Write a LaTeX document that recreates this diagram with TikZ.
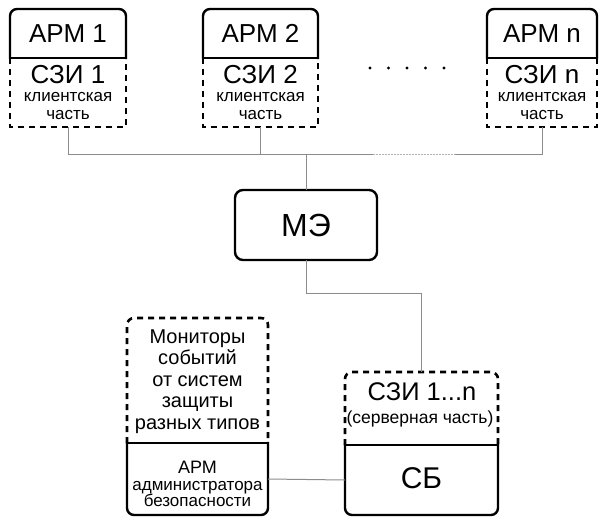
\documentclass[tikz,border=0pt]{standalone}
\usepackage{fontspec}
\setmainfont{Liberation Sans}
\begin{document}
\begin{tikzpicture}[x=1pt,y=-1pt,
  area/.style={draw=none, inner sep=0pt, outer sep=0pt},
  txt/.style={inner sep=0pt, anchor=base},
  big/.style={font=\fontsize{26}{28}\selectfont},
  small/.style={font=\fontsize{17}{18}\selectfont},
  mid/.style={font=\fontsize{20}{22}\selectfont},
  solidline/.style={line width=2.4pt, line cap=rect, draw=black},
  dashline/.style={line width=2.6pt, dash pattern=on 6pt off 5pt, draw=black},
  conn/.style={line width=1pt, draw=black!45},
  dotconn/.style={line width=1pt, draw=black!30, dash pattern=on 1.5pt off 1.5pt},
]
\useasboundingbox (0,0) rectangle (601,518);

% ---------- top workstations ----------
\foreach \n/\cx/\w/\a/\b in {1/68/116/АРМ 1/СЗИ 1, 2/260.5/115/АРМ 2/СЗИ 2, 3/542/110/АРМ n/СЗИ n}{
  \node[area, minimum width=\w pt, minimum height=49pt] (apm\n) at (\cx,33.5) {};
  \node[area, minimum width=\w pt, minimum height=69pt] (szi\n) at (\cx,92.5) {};
  \node[txt, big] (apmt\n) at (\cx,42.5) {\a};
  \node[txt, big] (szit\n) at (\cx,83.5) {\b};
  \node[txt, small] (kl\n) at (\cx,102) {клиентская};
  \node[txt, small] (ch\n) at (\cx,120) {часть};
  \draw[solidline, rounded corners=7pt] (apm\n.south west) -- (apm\n.north west) -- (apm\n.north east) -- (apm\n.south east);
  \draw[solidline] (apm\n.south west) -- (apm\n.south east);
  \draw[dashline] (szi\n.north west) -- (szi\n.south west) -- (szi\n.south east) -- (szi\n.north east);
}

% dots between
\foreach \i/\x in {1/370,2/388.5,3/407,4/425.5,5/444}{
  \fill (\x,68) circle (1.6pt);
}

% ---------- firewall ----------
\node[area, minimum width=142pt, minimum height=70pt, draw, solidline, rounded corners=8pt,
      font=\fontsize{32}{34}\selectfont] (me) at (306,225) {МЭ};

% bus
\coordinate (bus1) at (68,155);
\coordinate (bus2) at (260.5,155);
\coordinate (busme) at (306,155);
\coordinate (busd1) at (373,155);
\coordinate (busd2) at (455,155);
\coordinate (busn) at (542,155);
\draw[conn] (szi1.south) -- (bus1) -- (busd1);
\draw[dotconn] (busd1) -- (busd2);
\draw[conn] (busd2) -- (busn) -- (szi3.south);
\draw[conn] (szi2.south) -- (bus2);
\draw[conn] (busme) -- (me.north);

% ---------- bottom left: monitors + admin ----------
\node[area, minimum width=141pt, minimum height=125pt] (mon) at (197.5,380.5) {};
\node[area, minimum width=141pt, minimum height=72pt] (adm) at (197.5,479) {};
\foreach \i/\y/\t in {1/343/Мониторы,2/364.5/событий,3/386/от систем,4/407.5/защиты,5/429/разных типов}{
  \node[txt, mid] (mt\i) at (197.5,\y) {\t};
}
\node[txt, font=\fontsize{18}{19}\selectfont] (at1) at (197.5,473.5) {АРМ};
\node[txt, small] (at2) at (197.5,490.5) {администратора};
\node[txt, small] (at3) at (197.5,506.5) {безопасности};
\draw[dashline, rounded corners=7pt] (mon.south west) -- (mon.north west) -- (mon.north east) -- (mon.south east);
\draw[solidline, rounded corners=7pt] (adm.north west) -- (adm.south west) -- (adm.south east) -- (adm.north east);
\draw[solidline] (adm.north west) -- (adm.north east);

% ---------- bottom right: server part + SB ----------
\node[area, minimum width=153pt, minimum height=73pt] (srv) at (421.5,408.5) {};
\node[area, minimum width=153pt, minimum height=70pt] (sb) at (421.5,480) {};
\node[txt, font=\fontsize{25.5}{27}\selectfont] (st1) at (422,400) {СЗИ 1...n};
\node[txt, font=\fontsize{17.5}{19}\selectfont] (st2) at (420,423) {(серверная часть)};
\node[txt, font=\fontsize{30}{32}\selectfont] (sbt) at (421.5,488) {СБ};
\draw[dashline, rounded corners=7pt] (srv.south west) -- (srv.north west) -- (srv.north east) -- (srv.south east);
\draw[solidline, rounded corners=7pt] (sb.north west) -- (sb.south west) -- (sb.south east) -- (sb.north east);
\draw[solidline] (sb.north west) -- (sb.north east);

% connectors bottom
\coordinate (k1) at (306,293);
\coordinate (k2) at (421.5,293);
\draw[conn] (me.south) -- (k1) -- (k2) -- (srv.north);
\draw[conn] (adm.east) -- (sb.west);
\end{tikzpicture}
\end{document}
